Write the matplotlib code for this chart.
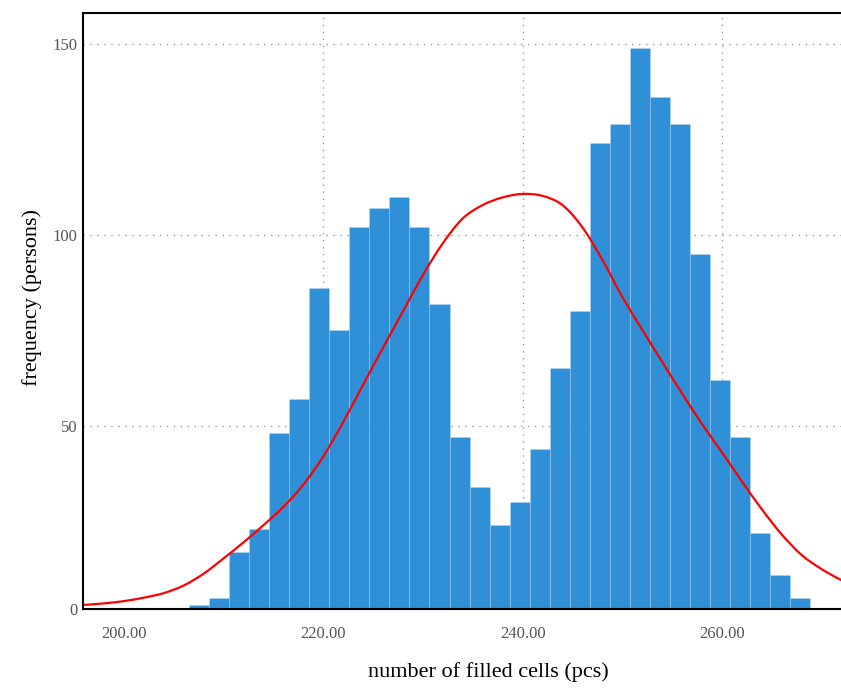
import matplotlib
matplotlib.use("Agg")
import matplotlib.pyplot as plt
from matplotlib.path import Path
from matplotlib.patches import PathPatch

# ---- data ----
bin_start = 206.5          # left edge of first bin
bin_width = 2.013          # width of each bin
counts = [3, 5, 17, 23, 48, 57, 86, 75, 102, 107, 110, 102, 82, 47, 34, 24,
          30, 44, 65, 80, 124, 129, 149, 136, 129, 95, 62, 47, 22, 11, 5]

curve_x = [196, 198, 200, 202, 204, 206, 208, 210, 212, 214, 216, 218, 220,
           222, 224, 226, 228, 230, 232, 234, 236, 238, 240, 242, 244, 246,
           248, 250, 252, 254, 256, 258, 260, 262, 264, 266, 268, 270, 272,
           274, 276]
curve_y = [3.1, 3.5, 4.1, 5.0, 6.2, 8.2, 11.3, 15.3, 19.5, 24.0, 28.8, 34.6,
           42.0, 51.0, 60.8, 70.5, 80.0, 89.5, 97.8, 104.3, 107.8, 109.8,
           110.7, 110.2, 107.8, 102.0, 93.5, 83.8, 75.2, 66.8, 58.5, 50.5,
           43.1, 35.5, 28.2, 21.6, 16.2, 12.5, 9.6, 7.4, 5.8]

x_ticks = [200, 220, 240, 260]
y_tick_values = [1.9, 50, 100, 150]
y_tick_labels = ["0", "50", "100", "150"]

x_label = "number of filled cells (pcs)"
y_label = "frequency (persons)"

bar_color = "#2f8fd7"
curve_color = "#ff0000"

# ---- figure ----
plt.rcParams["font.family"] = ["Liberation Serif", "DejaVu Serif"]
fig = plt.figure(figsize=(8.41, 6.90), dpi=100)
ax = fig.add_axes([0.099, 0.1167, 0.963, 0.864])

lefts = [bin_start + i * bin_width for i in range(len(counts))]
ax.bar(lefts, counts, width=bin_width, align="edge", color=bar_color,
       edgecolor=(1, 1, 1, 0.18), linewidth=0.6, zorder=2)

# smooth line through the read points (Catmull-Rom drawn as Bezier segments)
pts = list(zip(curve_x, curve_y))
verts = [pts[0]]
codes = [Path.MOVETO]
n = len(pts)
for i in range(n - 1):
    p0 = pts[i - 1] if i > 0 else pts[i]
    p1 = pts[i]
    p2 = pts[i + 1]
    p3 = pts[i + 2] if i + 2 < n else pts[i + 1]
    c1 = (p1[0] + (p2[0] - p0[0]) / 6.0, p1[1] + (p2[1] - p0[1]) / 6.0)
    c2 = (p2[0] - (p3[0] - p1[0]) / 6.0, p2[1] - (p3[1] - p1[1]) / 6.0)
    verts += [c1, c2, p2]
    codes += [Path.CURVE4, Path.CURVE4, Path.CURVE4]
curve_patch = PathPatch(Path(verts, codes), facecolor="none",
                        edgecolor=curve_color, linewidth=1.6, zorder=3,
                        capstyle="round", joinstyle="round")
ax.add_patch(curve_patch)

ax.set_xlim(195.9, 277.2)
ax.set_ylim(1.9, 158.0)

ax.set_xticks(x_ticks)
ax.set_xticklabels([f"{v:.2f}" for v in x_ticks])
ax.set_yticks(y_tick_values)
ax.set_yticklabels(y_tick_labels)

ax.tick_params(axis="x", length=0, pad=12, labelsize=12, labelcolor="#555555")
ax.tick_params(axis="y", length=0, pad=4, labelsize=12, labelcolor="#555555")

ax.grid(True, color="#999999", linestyle=(0, (1, 4)), linewidth=1.0, zorder=0)
ax.set_axisbelow(True)
# no gridline on the first x tick / zero line
ax.xaxis.get_gridlines()[0].set_visible(False)
ax.yaxis.get_gridlines()[0].set_visible(False)

for side in ["left", "top", "bottom"]:
    ax.spines[side].set_color("black")
    ax.spines[side].set_linewidth(1.5)
    ax.spines[side].set_zorder(4)
ax.spines["right"].set_visible(False)

ax.set_xlabel(x_label, fontsize=16, color="black")
ax.set_ylabel(y_label, fontsize=16, color="black")
ax.xaxis.set_label_coords(0.5, -0.088)
ax.yaxis.set_label_coords(-0.051, 0.524)

fig.savefig("out.png", dpi=100)
